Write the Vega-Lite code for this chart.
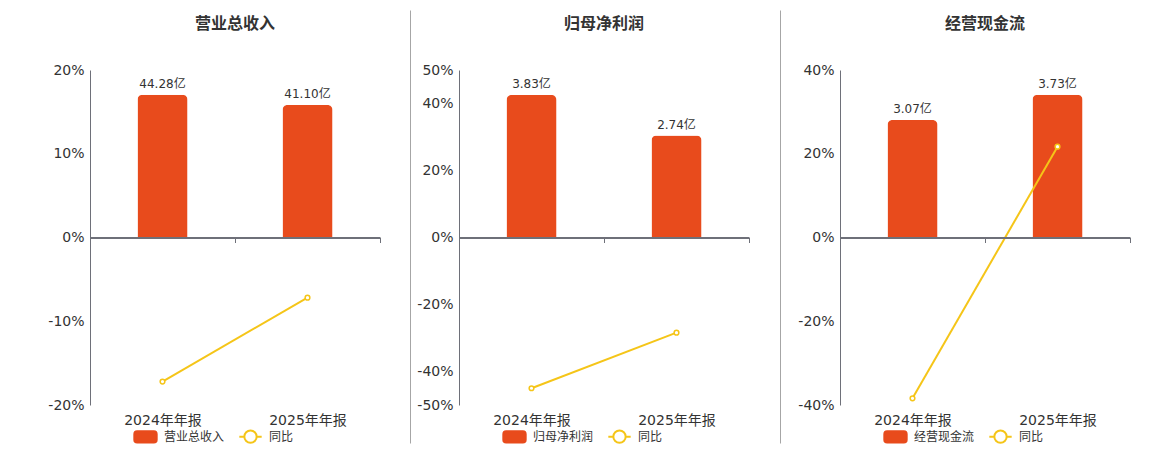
{
  "$schema": "https://vega.github.io/schema/vega-lite/v6.json",
  "padding": {"left": 47, "top": 10, "right": 0, "bottom": 0},
  "spacing": 5,
  "resolve": {"scale": {"fill": "independent", "stroke": "independent", "shape": "independent"}},
  "hconcat": [
    {
      "spacing": 29,
      "resolve": {"scale": {"fill": "independent", "stroke": "independent", "shape": "independent"}},
      "hconcat": [
        {
          "title": "营业总收入",
          "width": 290,
          "height": 335,
          "data": {"values": [
            {"period": "2024年年报", "amt": 44.28, "label": "44.28亿", "yoy": -17.2},
            {"period": "2025年年报", "amt": 41.10, "label": "41.10亿", "yoy": -7.18}
          ]},
          "encoding": {
            "x": {"field": "period", "type": "nominal", "sort": null,
              "scale": {"paddingInner": 0, "paddingOuter": 0},
              "axis": {"title": null, "orient": "bottom", "offset": -167.5, "labelAngle": 0, "labelPadding": 171, "labelFontSize": 14, "labelColor": "#333333", "domainColor": "#6e7079", "domainWidth": 2, "tickColor": "#6e7079", "tickSize": 5, "tickBand": "extent", "zindex": 2}}
          },
          "layer": [
            {
              "mark": {"type": "bar", "color": "#e84b1c", "width": {"band": 0.345}, "cornerRadiusTopLeft": 5, "cornerRadiusTopRight": 5},
              "encoding": {"y": {"field": "amt", "type": "quantitative", "scale": {"domain": [-52, 52], "nice": false}, "axis": null}}
            },
            {
              "mark": {"type": "text", "baseline": "bottom", "dy": -4, "fontSize": 12, "color": "#333333"},
              "encoding": {"y": {"field": "amt", "type": "quantitative", "scale": {"domain": [-52, 52], "nice": false}, "axis": null}, "text": {"field": "label"}}
            },
            {
              "mark": {"type": "line", "color": "#f5c518", "strokeWidth": 2, "point": {"filled": false, "fill": "#ffffff", "stroke": "#f5c518", "size": 22, "strokeWidth": 1.5}},
              "encoding": {"y": {"field": "yoy", "type": "quantitative", "scale": {"domain": [-20, 20], "nice": false},
                "axis": {"orient": "left", "title": null, "values": [-20, -10, 0, 10, 20], "labelExpr": "datum.value + '%'", "labelFontSize": 14, "labelColor": "#333333", "labelPadding": 6, "ticks": false, "domainColor": "#6e7079", "gridColor": "#e0e6f1"}}}
            },
            {
              "data": {"values": [{"s": "营业总收入"}, {"s": "同比"}]},
              "transform": [{"filter": "false"}],
              "mark": {"type": "point", "filled": true, "opacity": 1, "strokeWidth": 2, "size": 500},
              "encoding": {
                "x": {"value": 0}, "y": {"value": 0},
                "shape": {"field": "s", "type": "nominal", "scale": {"domain": ["营业总收入", "同比"], "range": ["M-0.75,-0.5H0.75Q1,-0.5 1,-0.25V0.25Q1,0.5 0.75,0.5H-0.75Q-1,0.5 -1,0.25V-0.25Q-1,-0.5 -0.75,-0.5Z", "M-1,0H-0.55M0.55,0A0.55,0.55 0 1 1 -0.55,0A0.55,0.55 0 1 1 0.55,0M0.55,0H1"]}, "legend": {"title": null}},
                "fill": {"field": "s", "type": "nominal", "scale": {"domain": ["营业总收入", "同比"], "range": ["#e84b1c", "#ffffff"]}, "legend": {"title": null}},
                "stroke": {"field": "s", "type": "nominal", "scale": {"domain": ["营业总收入", "同比"], "range": ["#e84b1c", "#f5c518"]}, "legend": {"title": null}}
              }
            }
          ],
          "resolve": {"scale": {"y": "independent"}}
        },
        {
          "width": 1,
          "height": 433,
          "data": {"values": [{"v": 0}]},
          "transform": [{"filter": "false"}],
          "mark": {"type": "point", "opacity": 0},
          "encoding": {"y": {"field": "v", "type": "quantitative", "scale": {"domain": [0, 1]}, "axis": {"title": null, "position": -60, "labels": false, "ticks": false, "grid": false, "domainColor": "#a6a6a6", "domainWidth": 1}}}
        }
      ]
    },
    {
      "spacing": 16,
      "resolve": {"scale": {"fill": "independent", "stroke": "independent", "shape": "independent"}},
      "hconcat": [
        {
          "spacing": 30,
          "resolve": {"scale": {"fill": "independent", "stroke": "independent", "shape": "independent"}},
          "hconcat": [
            {
              "title": "归母净利润",
              "width": 290,
              "height": 335,
              "data": {"values": [
                {"period": "2024年年报", "amt": 3.83, "label": "3.83亿", "yoy": -45.0},
                {"period": "2025年年报", "amt": 2.74, "label": "2.74亿", "yoy": -28.4}
              ]},
              "encoding": {
                "x": {"field": "period", "type": "nominal", "sort": null,
                  "scale": {"paddingInner": 0, "paddingOuter": 0},
                  "axis": {"title": null, "orient": "bottom", "offset": -167.5, "labelAngle": 0, "labelPadding": 171, "labelFontSize": 14, "labelColor": "#333333", "domainColor": "#6e7079", "domainWidth": 2, "tickColor": "#6e7079", "tickSize": 5, "tickBand": "extent", "zindex": 2}}
              },
              "layer": [
                {
                  "mark": {"type": "bar", "color": "#e84b1c", "width": {"band": 0.345}, "cornerRadiusTopLeft": 5, "cornerRadiusTopRight": 5},
                  "encoding": {"y": {"field": "amt", "type": "quantitative", "scale": {"domain": [-4.5, 4.5], "nice": false}, "axis": null}}
                },
                {
                  "mark": {"type": "text", "baseline": "bottom", "dy": -4, "fontSize": 12, "color": "#333333"},
                  "encoding": {"y": {"field": "amt", "type": "quantitative", "scale": {"domain": [-4.5, 4.5], "nice": false}, "axis": null}, "text": {"field": "label"}}
                },
                {
                  "mark": {"type": "line", "color": "#f5c518", "strokeWidth": 2, "point": {"filled": false, "fill": "#ffffff", "stroke": "#f5c518", "size": 22, "strokeWidth": 1.5}},
                  "encoding": {"y": {"field": "yoy", "type": "quantitative", "scale": {"domain": [-50, 50], "nice": false},
                    "axis": {"orient": "left", "title": null, "values": [-50, -40, -20, 0, 20, 40, 50], "labelExpr": "datum.value + '%'", "labelFontSize": 14, "labelColor": "#333333", "labelPadding": 6, "ticks": false, "domainColor": "#6e7079", "gridColor": "#e0e6f1"}}}
                },
                {
                  "data": {"values": [{"s": "归母净利润"}, {"s": "同比"}]},
                  "transform": [{"filter": "false"}],
                  "mark": {"type": "point", "filled": true, "opacity": 1, "strokeWidth": 2, "size": 500},
                  "encoding": {
                    "x": {"value": 0}, "y": {"value": 0},
                    "shape": {"field": "s", "type": "nominal", "scale": {"domain": ["归母净利润", "同比"], "range": ["M-0.75,-0.5H0.75Q1,-0.5 1,-0.25V0.25Q1,0.5 0.75,0.5H-0.75Q-1,0.5 -1,0.25V-0.25Q-1,-0.5 -0.75,-0.5Z", "M-1,0H-0.55M0.55,0A0.55,0.55 0 1 1 -0.55,0A0.55,0.55 0 1 1 0.55,0M0.55,0H1"]}, "legend": {"title": null}},
                    "fill": {"field": "s", "type": "nominal", "scale": {"domain": ["归母净利润", "同比"], "range": ["#e84b1c", "#ffffff"]}, "legend": {"title": null}},
                    "stroke": {"field": "s", "type": "nominal", "scale": {"domain": ["归母净利润", "同比"], "range": ["#e84b1c", "#f5c518"]}, "legend": {"title": null}}
                  }
                }
              ],
              "resolve": {"scale": {"y": "independent"}}
            },
            {
              "width": 1,
              "height": 433,
              "data": {"values": [{"v": 0}]},
              "transform": [{"filter": "false"}],
              "mark": {"type": "point", "opacity": 0},
              "encoding": {"y": {"field": "v", "type": "quantitative", "scale": {"domain": [0, 1]}, "axis": {"title": null, "position": -60, "labels": false, "ticks": false, "grid": false, "domainColor": "#a6a6a6", "domainWidth": 1}}}
            }
          ]
        },
        {
          "title": "经营现金流",
          "width": 290,
          "height": 335,
          "data": {"values": [
            {"period": "2024年年报", "amt": 3.07, "label": "3.07亿", "yoy": -38.4},
            {"period": "2025年年报", "amt": 3.73, "label": "3.73亿", "yoy": 21.7}
          ]},
          "encoding": {
            "x": {"field": "period", "type": "nominal", "sort": null,
              "scale": {"paddingInner": 0, "paddingOuter": 0},
              "axis": {"title": null, "orient": "bottom", "offset": -167.5, "labelAngle": 0, "labelPadding": 171, "labelFontSize": 14, "labelColor": "#333333", "domainColor": "#6e7079", "domainWidth": 2, "tickColor": "#6e7079", "tickSize": 5, "tickBand": "extent", "zindex": 2}}
          },
          "layer": [
            {
              "mark": {"type": "bar", "color": "#e84b1c", "width": {"band": 0.345}, "cornerRadiusTopLeft": 5, "cornerRadiusTopRight": 5},
              "encoding": {"y": {"field": "amt", "type": "quantitative", "scale": {"domain": [-4.38, 4.38], "nice": false}, "axis": null}}
            },
            {
              "mark": {"type": "text", "baseline": "bottom", "dy": -4, "fontSize": 12, "color": "#333333"},
              "encoding": {"y": {"field": "amt", "type": "quantitative", "scale": {"domain": [-4.38, 4.38], "nice": false}, "axis": null}, "text": {"field": "label"}}
            },
            {
              "mark": {"type": "line", "color": "#f5c518", "strokeWidth": 2, "point": {"filled": false, "fill": "#ffffff", "stroke": "#f5c518", "size": 22, "strokeWidth": 1.5}},
              "encoding": {"y": {"field": "yoy", "type": "quantitative", "scale": {"domain": [-40, 40], "nice": false},
                "axis": {"orient": "left", "title": null, "values": [-40, -20, 0, 20, 40], "labelExpr": "datum.value + '%'", "labelFontSize": 14, "labelColor": "#333333", "labelPadding": 6, "ticks": false, "domainColor": "#6e7079", "gridColor": "#e0e6f1"}}}
            },
            {
              "data": {"values": [{"s": "经营现金流"}, {"s": "同比"}]},
              "transform": [{"filter": "false"}],
              "mark": {"type": "point", "filled": true, "opacity": 1, "strokeWidth": 2, "size": 500},
              "encoding": {
                "x": {"value": 0}, "y": {"value": 0},
                "shape": {"field": "s", "type": "nominal", "scale": {"domain": ["经营现金流", "同比"], "range": ["M-0.75,-0.5H0.75Q1,-0.5 1,-0.25V0.25Q1,0.5 0.75,0.5H-0.75Q-1,0.5 -1,0.25V-0.25Q-1,-0.5 -0.75,-0.5Z", "M-1,0H-0.55M0.55,0A0.55,0.55 0 1 1 -0.55,0A0.55,0.55 0 1 1 0.55,0M0.55,0H1"]}, "legend": {"title": null}},
                "fill": {"field": "s", "type": "nominal", "scale": {"domain": ["经营现金流", "同比"], "range": ["#e84b1c", "#ffffff"]}, "legend": {"title": null}},
                "stroke": {"field": "s", "type": "nominal", "scale": {"domain": ["经营现金流", "同比"], "range": ["#e84b1c", "#f5c518"]}, "legend": {"title": null}}
              }
            }
          ],
          "resolve": {"scale": {"y": "independent"}}
        }
      ]
    }
  ],
  "config": {
    "font": "DejaVu Sans, Noto Sans CJK SC, sans-serif",
    "view": {"stroke": null},
    "title": {"fontSize": 16, "fontWeight": "bold", "color": "#333333", "anchor": "middle", "offset": 31},
    "legend": {"orient": "none", "legendX": 43, "legendY": 354, "padding": 0, "direction": "horizontal", "labelFontSize": 12, "labelColor": "#333333", "symbolSize": 500, "symbolStrokeWidth": 2, "columnPadding": 10, "labelOffset": 6}
  }
}
